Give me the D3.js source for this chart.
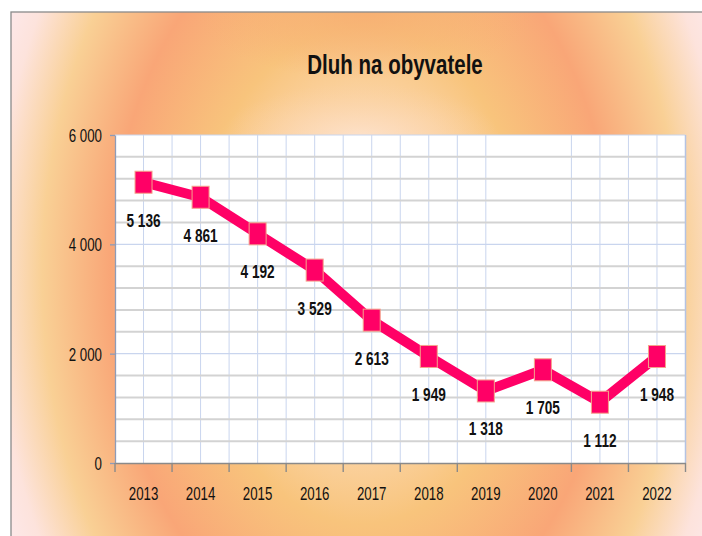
<html lang="cs">
<head>
<meta charset="UTF-8">
<title>Dluh na obyvatele</title>
<script src="https://d3js.org/d3.v7.min.js"></script>
<style>
  body { margin: 0; background: #fff; }
  text { font-family: "Liberation Sans", Arial, sans-serif; fill: #111; }
</style>
</head>
<body>
<div class="chart"></div>
<script>
    // data
    const years = ['2013', '2014', '2015', '2016', '2017', '2018', '2019', '2020', '2021', '2022'];
    const values = [5136, 4861, 4192, 3529, 2613, 1949, 1318, 1705, 1112, 1948];
    const yTicks = [0, 2000, 4000, 6000];
    const yMinor = [400, 800, 1200, 1600, 2400, 2800, 3200, 3600, 4400, 4800, 5200, 5600];
    // the original has no vertical gridlines around this year
    const gapYears = ['2020'];

    const W = 702, H = 536;
    const plot = {left: 115, right: 685.5, top: 135, bottom: 463};

    const fmt = d3.formatLocale({decimal: ',', thousands: ' ', grouping: [3]}).format(',d');

    const svg = d3.select('.chart').append('svg')
        .attr('width', W)
        .attr('height', H);

    // background gradient (elliptical rings) + two soft spots near the top
    const defs = svg.append('defs');
    function radial(id, transform, r, stops) {
        const g = defs.append('radialGradient')
            .attr('id', id)
            .attr('gradientUnits', 'userSpaceOnUse')
            .attr('cx', 0).attr('cy', 0).attr('r', r)
            .attr('gradientTransform', transform);
        stops.forEach(s => {
            g.append('stop').attr('offset', s[0]).attr('stop-color', s[1])
                .attr('stop-opacity', s[2] === undefined ? 1 : s[2]);
        });
    }
    radial('bg', 'translate(362,275) scale(250,370)', 1.6,
        [[0, '#fde2c8'], [0.26, '#fcd7ad'], [0.42, '#f8c47c'], [0.63, '#f9a677'],
         [0.8, '#f9d095'], [0.92, '#fde3dc'], [1, '#fde9ec']]);
    radial('topOrange', 'translate(365,10) scale(170,70)', 1,
        [[0, '#f7ad72', 0.85], [0.6, '#f7ae72', 0.4], [1, '#f7b072', 0]]);
    radial('topLight', 'translate(360,138) scale(140,55)', 1,
        [[0, '#fde2cc', 0.95], [0.5, '#fcd8b4', 0.6], [1, '#fbd0a0', 0]]);

    svg.append('rect')
        .attr('x', 11).attr('y', 12)
        .attr('width', W).attr('height', H)
        .attr('fill', 'url(#bg)');
    svg.append('rect')
        .attr('x', 11).attr('y', 12)
        .attr('width', W).attr('height', 200)
        .attr('fill', 'url(#topOrange)');
    svg.append('rect')
        .attr('x', 11).attr('y', 12)
        .attr('width', W).attr('height', 200)
        .attr('fill', 'url(#topLight)');
    svg.append('rect')
        .attr('x', 11).attr('y', 12)
        .attr('width', W).attr('height', H)
        .attr('fill', 'none')
        .attr('stroke', '#8a8a8a')
        .attr('stroke-width', 1.3);

    const x = d3.scaleBand().domain(years).range([plot.left, plot.right]);
    const y = d3.scaleLinear().domain([0, 6000]).range([plot.bottom, plot.top]);

    // plot area
    svg.append('rect')
        .attr('x', plot.left).attr('y', plot.top)
        .attr('width', plot.right - plot.left).attr('height', plot.bottom - plot.top)
        .attr('fill', '#fff');

    // vertical gridlines, at band edges and centres
    const vLines = [];
    years.forEach((yr, i) => {
        if (gapYears.includes(yr)) return;
        if (i > 0) vLines.push(x(yr));
        vLines.push(x(yr) + x.bandwidth() / 2);
    });
    svg.append('g').selectAll('line')
        .data(vLines)
        .join('line')
        .attr('x1', d => d).attr('x2', d => d)
        .attr('y1', plot.top).attr('y2', plot.bottom)
        .attr('stroke', '#c9d5ee')
        .attr('stroke-width', 1);

    // horizontal gridlines
    svg.append('g').selectAll('line')
        .data(yMinor)
        .join('line')
        .attr('x1', plot.left).attr('x2', plot.right)
        .attr('y1', d => y(d)).attr('y2', d => y(d))
        .attr('stroke', '#d3d3d3')
        .attr('stroke-width', 2);
    svg.append('g').selectAll('line')
        .data(yTicks.slice(1))
        .join('line')
        .attr('x1', plot.left).attr('x2', plot.right)
        .attr('y1', d => y(d)).attr('y2', d => y(d))
        .attr('stroke', '#c9d5ee')
        .attr('stroke-width', 1.2);

    // right edge of plot
    svg.append('line')
        .attr('x1', plot.right).attr('x2', plot.right)
        .attr('y1', plot.top).attr('y2', plot.bottom)
        .attr('stroke', '#b4c3e3').attr('stroke-width', 1.5);

    // y axis
    const yAxis = d3.axisLeft(y).tickValues(yTicks).tickSize(5).tickSizeOuter(0).tickFormat(fmt);
    const gy = svg.append('g')
        .attr('transform', `translate(${plot.left},0)`)
        .call(yAxis);
    gy.select('.domain').attr('stroke', '#8e9cb8').attr('stroke-width', 1.3);
    gy.selectAll('.tick line').attr('stroke', '#8e9cb8').attr('stroke-width', 1.3);
    gy.selectAll('.tick text')
        .attr('x', null).attr('dy', null)
        .attr('transform', 'translate(-13,6.5) scale(0.74,1)')
        .attr('font-size', 18)
        .attr('font-family', '"Liberation Sans", Arial, sans-serif')
        .attr('fill', '#111');

    // x axis
    const xAxis = d3.axisBottom(x).tickSize(0).tickSizeOuter(0);
    const gx = svg.append('g')
        .attr('transform', `translate(0,${plot.bottom})`)
        .call(xAxis);
    gx.select('.domain').attr('stroke', '#8a8a8a').attr('stroke-width', 1.4);
    gx.selectAll('.tick text')
        .attr('y', null).attr('dy', null)
        .attr('transform', 'translate(0,36.5) scale(0.7,1)')
        .attr('font-size', 19)
        .attr('font-family', '"Liberation Sans", Arial, sans-serif')
        .attr('fill', '#111');
    const edges = years.filter(yr => !gapYears.includes(yr)).map(yr => x(yr)).concat([plot.right]);
    gx.append('g').selectAll('line')
        .data(edges)
        .join('line')
        .attr('x1', d => d).attr('x2', d => d)
        .attr('y1', 0).attr('y2', 9)
        .attr('stroke', '#8a8a8a')
        .attr('stroke-width', 1.4);

    // series line
    const cx = d => x(d) + x.bandwidth() / 2;
    const line = d3.line()
        .x((d, i) => cx(years[i]))
        .y(d => y(d));
    svg.append('path')
        .datum(values)
        .attr('d', line)
        .attr('fill', 'none')
        .attr('stroke', '#ff0066')
        .attr('stroke-width', 10)
        .attr('stroke-linejoin', 'miter');

    // markers
    svg.append('g').selectAll('rect')
        .data(values)
        .join('rect')
        .attr('x', (d, i) => cx(years[i]) - 8.5)
        .attr('y', d => y(d) - 11)
        .attr('width', 17)
        .attr('height', 22)
        .attr('fill', '#ff0066')
        .attr('stroke', '#f4a48c')
        .attr('stroke-width', 1);

    // data labels
    svg.append('g').selectAll('text')
        .data(values)
        .join('text')
        .attr('transform', (d, i) => `translate(${cx(years[i])},${y(d) + 44.5}) scale(0.78,1)`)
        .attr('text-anchor', 'middle')
        .attr('font-size', 17.5)
        .attr('font-weight', 'bold')
        .attr('fill', '#000')
        .text(d => fmt(d));

    // title
    svg.append('text')
        .attr('transform', 'translate(395,74) scale(0.76,1)')
        .attr('text-anchor', 'middle')
        .attr('font-size', 27)
        .attr('font-weight', 'bold')
        .attr('fill', '#000')
        .text('Dluh na obyvatele');
</script>
</body>
</html>
